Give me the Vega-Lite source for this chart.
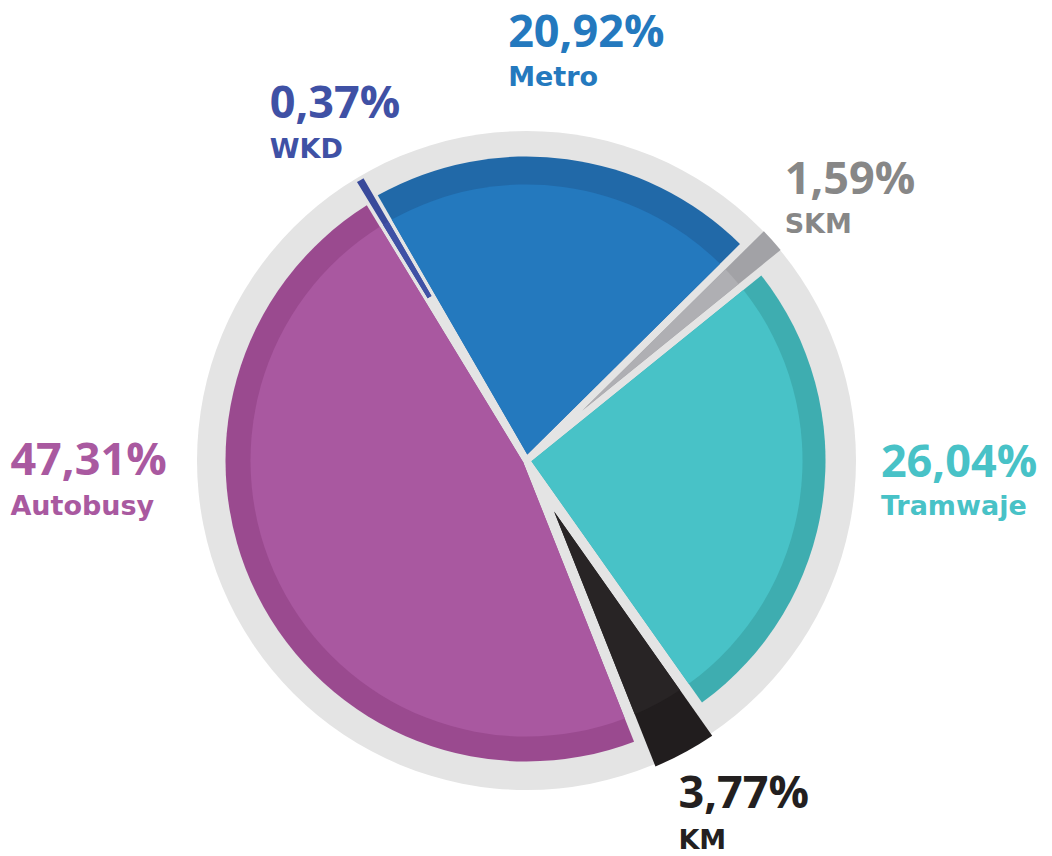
{
  "$schema": "https://vega.github.io/schema/vega-lite/v6.json",
  "autosize": {"type": "none"},
  "width": 1053,
  "height": 791,
  "padding": {"left": 0, "top": 65, "right": 0, "bottom": 0},
  "background": "#ffffff",
  "config": {"view": {"stroke": null}},
  "data": {"values": [
    {"cat": "Metro", "share": 20.92, "pct": "20,92%", "ord": 1},
    {"cat": "SKM", "share": 1.59, "pct": "1,59%", "ord": 2},
    {"cat": "Tramwaje", "share": 26.04, "pct": "26,04%", "ord": 3},
    {"cat": "KM", "share": 3.77, "pct": "3,77%", "ord": 4},
    {"cat": "Autobusy", "share": 47.31, "pct": "47,31%", "ord": 5},
    {"cat": "WKD", "share": 0.37, "pct": "0,37%", "ord": 6}
  ]},
  "transform": [
    {"stack": "share", "groupby": [], "sort": [{"field": "ord", "order": "ascending"}], "as": ["v0", "v1"]}
  ],
  "layer": [
    {
      "transform": [{"filter": "datum.cat === 'Metro'"}],
      "mark": {"type": "arc", "radius": 329.5, "theta": 0, "theta2": 6.2832, "color": "#E4E4E4"},
      "encoding": {}
    },
    {
      "transform": [{"filter": "datum.cat === 'Metro'"}],
      "encoding": {
        "theta": {"field": "v0", "type": "quantitative", "stack": null, "scale": {"domain": [0, 100], "range": [-0.5236, 5.7596]}},
        "theta2": {"field": "v1"}
      },
      "layer": [
        {"mark": {"type": "arc", "radius": 304, "radius2": 6, "padAngle": 0.02467, "color": "#2169A8"}},
        {"mark": {"type": "arc", "radius": 276, "radius2": 6, "padAngle": 0.02717, "color": "#2479BE"}}
      ]
    },
    {
      "transform": [{"filter": "datum.cat === 'SKM'"}],
      "encoding": {
        "theta": {"field": "v0", "type": "quantitative", "stack": null, "scale": {"domain": [0, 100], "range": [-0.5236, 5.7596]}},
        "theta2": {"field": "v1"}
      },
      "layer": [
        {"mark": {"type": "arc", "radius": 330, "radius2": 75, "padAngle": 0.02305, "color": "#A2A2A6"}},
        {"mark": {"type": "arc", "radius": 276, "radius2": 75, "padAngle": 0.02727, "color": "#AFAFB3"}}
      ]
    },
    {
      "transform": [{"filter": "datum.cat === 'Tramwaje'"}],
      "encoding": {
        "theta": {"field": "v0", "type": "quantitative", "stack": null, "scale": {"domain": [0, 100], "range": [-0.5236, 5.7596]}},
        "theta2": {"field": "v1"}
      },
      "layer": [
        {"mark": {"type": "arc", "radius": 299, "radius2": 5, "padAngle": 0.02508, "color": "#3EADB0"}},
        {"mark": {"type": "arc", "radius": 276, "radius2": 5, "padAngle": 0.02717, "color": "#48C2C7"}}
      ]
    },
    {
      "transform": [{"filter": "datum.cat === 'KM'"}],
      "encoding": {
        "theta": {"field": "v0", "type": "quantitative", "stack": null, "scale": {"domain": [0, 100], "range": [-0.5236, 5.7596]}},
        "theta2": {"field": "v1"}
      },
      "layer": [
        {"mark": {"type": "arc", "radius": 332, "radius2": 58, "padAngle": 0.0415, "color": "#211D1E"}},
        {"mark": {"type": "arc", "radius": 276, "radius2": 58, "padAngle": 0.04965, "color": "#282425"}}
      ]
    },
    {
      "transform": [{"filter": "datum.cat === 'Autobusy'"}],
      "encoding": {
        "theta": {"field": "v0", "type": "quantitative", "stack": null, "scale": {"domain": [0, 100], "range": [-0.5236, 5.7596]}},
        "theta2": {"field": "v1"}
      },
      "layer": [
        {"mark": {"type": "arc", "radius": 301, "radius2": 3.7, "padAngle": 0.02491, "color": "#9A4A8F"}},
        {"mark": {"type": "arc", "radius": 276, "radius2": 3.7, "padAngle": 0.02717, "color": "#A958A0"}}
      ]
    },
    {
      "transform": [{"filter": "datum.cat === 'WKD'"}],
      "encoding": {
        "theta": {"field": "v0", "type": "quantitative", "stack": null, "scale": {"domain": [0, 100], "range": [-0.5236, 5.7596]}},
        "theta2": {"field": "v1"}
      },
      "layer": [
        {"mark": {"type": "arc", "radius": 326, "radius2": 190, "padAngle": 0, "color": "#394A9B"}},
        {"mark": {"type": "arc", "radius": 276, "radius2": 190, "padAngle": 0, "color": "#3F51A5"}}
      ]
    },
    {
      "encoding": {
        "theta": {"field": "share", "type": "quantitative", "stack": true, "scale": {"domain": [0, 100], "range": [-0.5236, 5.7596]}},
        "order": {"field": "ord", "type": "quantitative"}
      },
      "layer": [
        {"mark": {"type": "text", "radius": 380, "dx": -69, "dy": -37, "align": "left", "baseline": "alphabetic", "font": "Open Sans", "fontWeight": "bold", "fontSize": 45, "color": "#2479BE"},
         "encoding": {"text": {"condition": {"test": "datum.cat === 'Metro'", "field": "pct", "type": "nominal"}, "value": ""}}},
        {"mark": {"type": "text", "radius": 380, "dx": -69, "dy": 2, "align": "left", "baseline": "alphabetic", "font": "DejaVu Sans", "fontWeight": "bold", "fontSize": 27, "color": "#2479BE"},
         "encoding": {"text": {"condition": {"test": "datum.cat === 'Metro'", "field": "cat", "type": "nominal"}, "value": ""}}},
        {"mark": {"type": "text", "radius": 380, "dx": -25, "dy": -13, "align": "left", "baseline": "alphabetic", "font": "Open Sans", "fontWeight": "bold", "fontSize": 45, "color": "#878787"},
         "encoding": {"text": {"condition": {"test": "datum.cat === 'SKM'", "field": "pct", "type": "nominal"}, "value": ""}}},
        {"mark": {"type": "text", "radius": 380, "dx": -25, "dy": 26, "align": "left", "baseline": "alphabetic", "font": "DejaVu Sans", "fontWeight": "bold", "fontSize": 27, "color": "#878787"},
         "encoding": {"text": {"condition": {"test": "datum.cat === 'SKM'", "field": "cat", "type": "nominal"}, "value": ""}}},
        {"mark": {"type": "text", "radius": 380, "dx": -22, "dy": -36, "align": "left", "baseline": "alphabetic", "font": "Open Sans", "fontWeight": "bold", "fontSize": 45, "color": "#48C2C7"},
         "encoding": {"text": {"condition": {"test": "datum.cat === 'Tramwaje'", "field": "pct", "type": "nominal"}, "value": ""}}},
        {"mark": {"type": "text", "radius": 380, "dx": -22, "dy": 2, "align": "left", "baseline": "alphabetic", "font": "DejaVu Sans", "fontWeight": "bold", "fontSize": 27, "color": "#48C2C7"},
         "encoding": {"text": {"condition": {"test": "datum.cat === 'Tramwaje'", "field": "cat", "type": "nominal"}, "value": ""}}},
        {"mark": {"type": "text", "radius": 380, "dx": -29, "dy": 13, "align": "left", "baseline": "alphabetic", "font": "Open Sans", "fontWeight": "bold", "fontSize": 45, "color": "#231F20"},
         "encoding": {"text": {"condition": {"test": "datum.cat === 'KM'", "field": "pct", "type": "nominal"}, "value": ""}}},
        {"mark": {"type": "text", "radius": 380, "dx": -29, "dy": 54, "align": "left", "baseline": "alphabetic", "font": "DejaVu Sans", "fontWeight": "bold", "fontSize": 27, "color": "#231F20"},
         "encoding": {"text": {"condition": {"test": "datum.cat === 'KM'", "field": "cat", "type": "nominal"}, "value": ""}}},
        {"mark": {"type": "text", "radius": 380, "dx": -176, "dy": -155, "align": "left", "baseline": "alphabetic", "font": "Open Sans", "fontWeight": "bold", "fontSize": 45, "color": "#A959A0"},
         "encoding": {"text": {"condition": {"test": "datum.cat === 'Autobusy'", "field": "pct", "type": "nominal"}, "value": ""}}},
        {"mark": {"type": "text", "radius": 380, "dx": -176, "dy": -115, "align": "left", "baseline": "alphabetic", "font": "DejaVu Sans", "fontWeight": "bold", "fontSize": 27, "color": "#A959A0"},
         "encoding": {"text": {"condition": {"test": "datum.cat === 'Autobusy'", "field": "cat", "type": "nominal"}, "value": ""}}},
        {"mark": {"type": "text", "radius": 380, "dx": -63, "dy": -16, "align": "left", "baseline": "alphabetic", "font": "Open Sans", "fontWeight": "bold", "fontSize": 45, "color": "#3F51A5"},
         "encoding": {"text": {"condition": {"test": "datum.cat === 'WKD'", "field": "pct", "type": "nominal"}, "value": ""}}},
        {"mark": {"type": "text", "radius": 380, "dx": -63, "dy": 24, "align": "left", "baseline": "alphabetic", "font": "DejaVu Sans", "fontWeight": "bold", "fontSize": 27, "color": "#3F51A5"},
         "encoding": {"text": {"condition": {"test": "datum.cat === 'WKD'", "field": "cat", "type": "nominal"}, "value": ""}}}
      ]
    }
  ]
}
